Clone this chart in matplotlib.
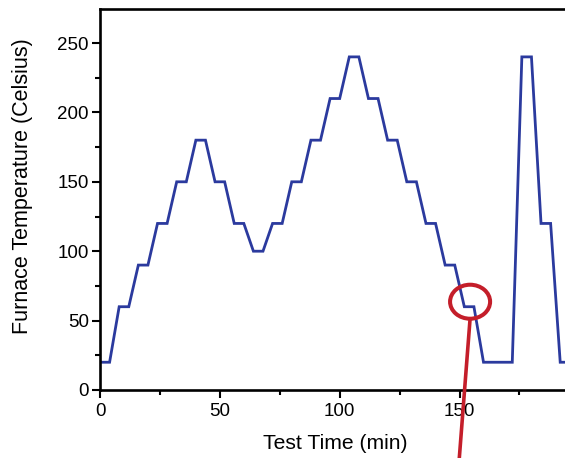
import numpy as np
import matplotlib
matplotlib.use("Agg")
from matplotlib import pyplot as plt
from matplotlib.patches import Ellipse
from matplotlib.ticker import MultipleLocator

plt.rcParams['font.family'] = ['Liberation Sans', 'DejaVu Sans']

# furnace program: corner points of the hold / ramp profile
time_min = [0, 4, 8, 12, 16, 20, 24, 28, 32, 36, 40, 44, 48, 52, 56, 60, 64, 68,
            72, 76, 80, 84, 88, 92, 96, 100, 104, 108, 112, 116, 120, 124, 128,
            132, 136, 140, 144, 148, 152, 156, 160, 172, 176, 180, 184, 188, 192, 200]
temp_c = [20, 20, 60, 60, 90, 90, 120, 120, 150, 150, 180, 180, 150, 150, 120, 120,
          100, 100, 120, 120, 150, 150, 180, 180, 210, 210, 240, 240, 210, 210,
          180, 180, 150, 150, 120, 120, 90, 90, 60, 60, 20, 20, 240, 240, 120, 120,
          20, 20]

# highlighted hold step
mark_t, mark_T = 154.4, 63.6

fig = plt.figure(figsize=(5.65, 4.58), dpi=100)
ax = fig.add_axes([100 / 565, 1 - 390 / 458, 1 - 100 / 565, (390 - 9) / 458])

ax.plot(time_min, temp_c, color='#2b3a9e', lw=2.0, solid_joinstyle='miter')

ax.set_xlim(0, 194)
ax.set_ylim(0, 274.5)
ax.xaxis.set_major_locator(MultipleLocator(50))
ax.xaxis.set_minor_locator(MultipleLocator(25))
ax.yaxis.set_major_locator(MultipleLocator(50))
ax.yaxis.set_minor_locator(MultipleLocator(25))
ax.tick_params(which='major', direction='out', length=6, width=1.5, labelsize=13.5)
ax.tick_params(axis='y', which='major', pad=2)
ax.tick_params(axis='x', which='major', pad=3.5)
ax.tick_params(which='minor', direction='out', length=3.6, width=1.5)
for s in ['left', 'bottom', 'top']:
    ax.spines[s].set_linewidth(1.9)
ax.spines['right'].set_visible(False)

ax.set_xlabel('Test Time (min)', fontsize=15.2)
ax.set_ylabel('Furnace Temperature (Celsius)', fontsize=15.5)
ax.xaxis.set_label_coords(0.506, -0.115)
ax.yaxis.set_label_coords(-0.144, 0.534)

# red marker ring and pointer line
ring = Ellipse((mark_t, mark_T), 16.7, 24.5, fill=False, ec='#c41e2a', lw=2.9,
               zorder=5, clip_on=False)
ax.add_patch(ring)
ax.plot([mark_t, 149.5], [mark_T - 12.25, -58], color='#c41e2a', lw=2.6,
        clip_on=False, zorder=5, solid_capstyle='butt')

fig.savefig('out.png', dpi=100)
